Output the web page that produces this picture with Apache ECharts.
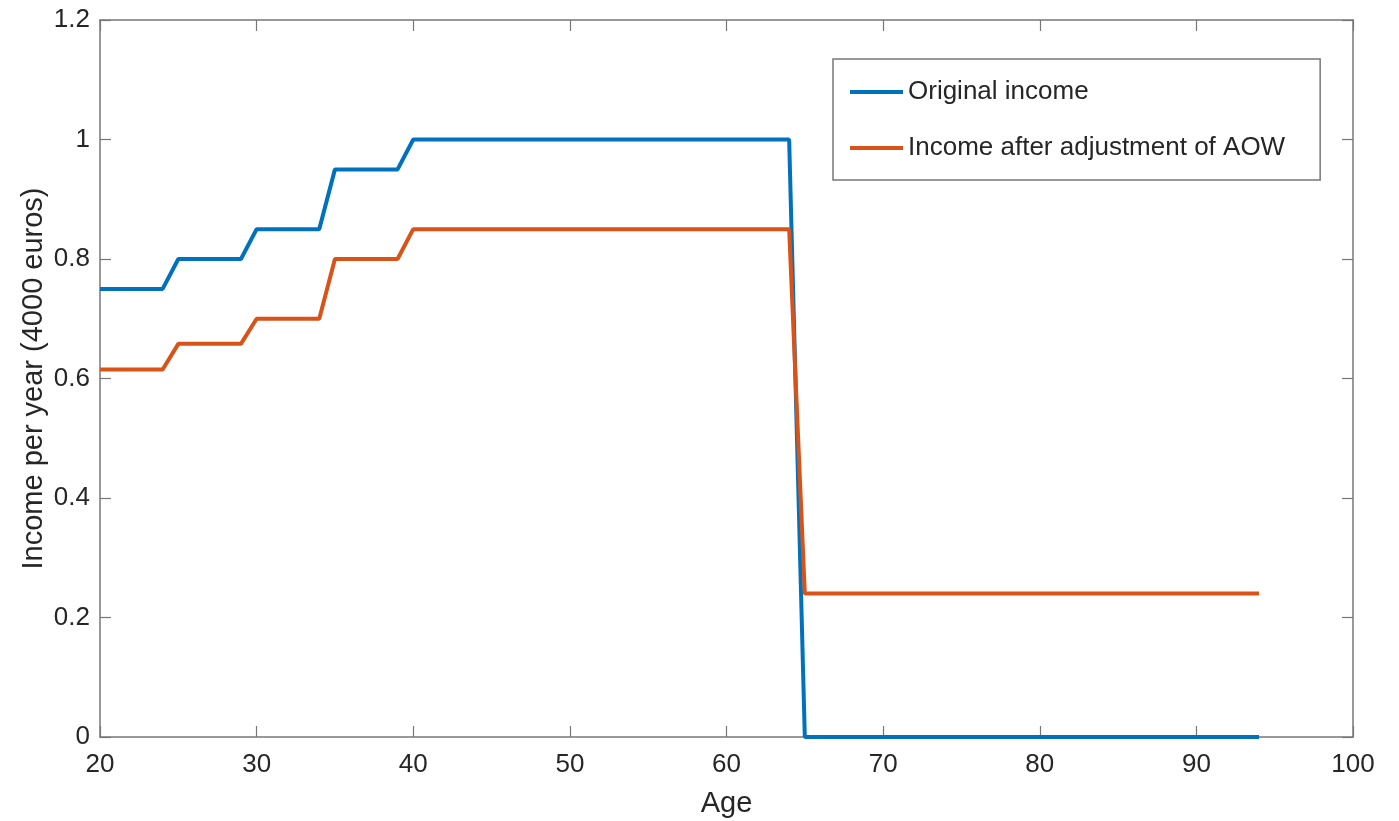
<!DOCTYPE html>
<html>
<head>
<meta charset="utf-8">
<script src="https://cdn.jsdelivr.net/npm/echarts@6/dist/echarts.min.js"></script>
<style>html,body{margin:0;padding:0;background:#fff}#c{width:1399px;height:821px}</style>
</head>
<body>
<div id="c"></div>
<script>
const ages = [20,21,22,23,24,25,26,27,28,29,30,31,32,33,34,35,36,37,38,39,40,41,42,43,44,45,46,47,48,49,50,51,52,53,54,55,56,57,58,59,60,61,62,63,64,65,66,67,68,69,70,71,72,73,74,75,76,77,78,79,80,81,82,83,84,85,86,87,88,89,90,91,92,93,94];
const originalIncome = [0.75,0.75,0.75,0.75,0.75,0.8,0.8,0.8,0.8,0.8,0.85,0.85,0.85,0.85,0.85,0.95,0.95,0.95,0.95,0.95,1,1,1,1,1,1,1,1,1,1,1,1,1,1,1,1,1,1,1,1,1,1,1,1,1,0,0,0,0,0,0,0,0,0,0,0,0,0,0,0,0,0,0,0,0,0,0,0,0,0,0,0,0,0,0];
const adjustedIncome = [0.615,0.615,0.615,0.615,0.615,0.658,0.658,0.658,0.658,0.658,0.7,0.7,0.7,0.7,0.7,0.8,0.8,0.8,0.8,0.8,0.85,0.85,0.85,0.85,0.85,0.85,0.85,0.85,0.85,0.85,0.85,0.85,0.85,0.85,0.85,0.85,0.85,0.85,0.85,0.85,0.85,0.85,0.85,0.85,0.85,0.24,0.24,0.24,0.24,0.24,0.24,0.24,0.24,0.24,0.24,0.24,0.24,0.24,0.24,0.24,0.24,0.24,0.24,0.24,0.24,0.24,0.24,0.24,0.24,0.24,0.24,0.24,0.24,0.24,0.24];
const seriesNames = ['Original income', 'Income after adjustment of AOW'];

const font = 'Liberation Sans, Arial, Helvetica, sans-serif';
const axisCol = '#777777';
const txtCol = '#262626';
const chart = echarts.init(document.getElementById('c'), null, {renderer: 'canvas'});
const mkAxisBase = (show) => ({
  axisLine: {show: true, onZero: false, lineStyle: {color: axisCol, width: 1.5}},
  axisTick: {show: true, inside: true, length: 11, lineStyle: {color: axisCol, width: 1.2}},
  splitLine: {show: false},
  axisLabel: {show: show, color: txtCol, fontSize: 26, fontFamily: font}
});
chart.setOption({
  animation: false,
  backgroundColor: '#fff',
  grid: {left: 100, right: 46, top: 20, bottom: 84, containLabel: false, outerBoundsMode: 'none'},
  legend: {
    left: 833, top: 59, orient: 'vertical',
    data: seriesNames,
    borderColor: '#777', borderWidth: 1.5, backgroundColor: '#fff',
    padding: [20, 35, 19, 17],
    itemWidth: 53, itemHeight: 4, itemGap: 30,
    icon: 'rect',
    textStyle: {color: txtCol, fontSize: 26, fontFamily: font, lineHeight: 26}
  },
  xAxis: [
    Object.assign(mkAxisBase(true), {type: 'value', min: 20, max: 100, interval: 10, position: 'bottom',
      name: 'Age', nameLocation: 'middle', nameGap: 52, nameMoveOverlap: false,
      nameTextStyle: {color: txtCol, fontSize: 29, fontFamily: font},
      axisLabel: {show: true, color: txtCol, fontSize: 26, fontFamily: font, margin: 15}}),
    Object.assign(mkAxisBase(false), {type: 'value', min: 20, max: 100, interval: 10, position: 'top'})
  ],
  yAxis: [
    Object.assign(mkAxisBase(true), {type: 'value', min: 0, max: 1.2, interval: 0.2, position: 'left',
      name: 'Income per year (4000 euros)', nameLocation: 'middle', nameGap: 52, nameMoveOverlap: false,
      nameTextStyle: {color: txtCol, fontSize: 29, fontFamily: font},
      axisLabel: {show: true, color: txtCol, fontSize: 26, fontFamily: font, margin: 10,
        formatter: v => String(Math.round(v*10)/10)}}),
    Object.assign(mkAxisBase(false), {type: 'value', min: 0, max: 1.2, interval: 0.2, position: 'right'})
  ],
  series: [
    {name: seriesNames[0], type: 'line', symbol: 'none', color: '#0072BD',
      lineStyle: {width: 4, color: '#0072BD'},
      data: ages.map((a, i) => [a, originalIncome[i]])},
    {name: seriesNames[1], type: 'line', symbol: 'none', color: '#D95319',
      lineStyle: {width: 4, color: '#D95319'},
      data: ages.map((a, i) => [a, adjustedIncome[i]])}
  ]
});
</script>
</body>
</html>
